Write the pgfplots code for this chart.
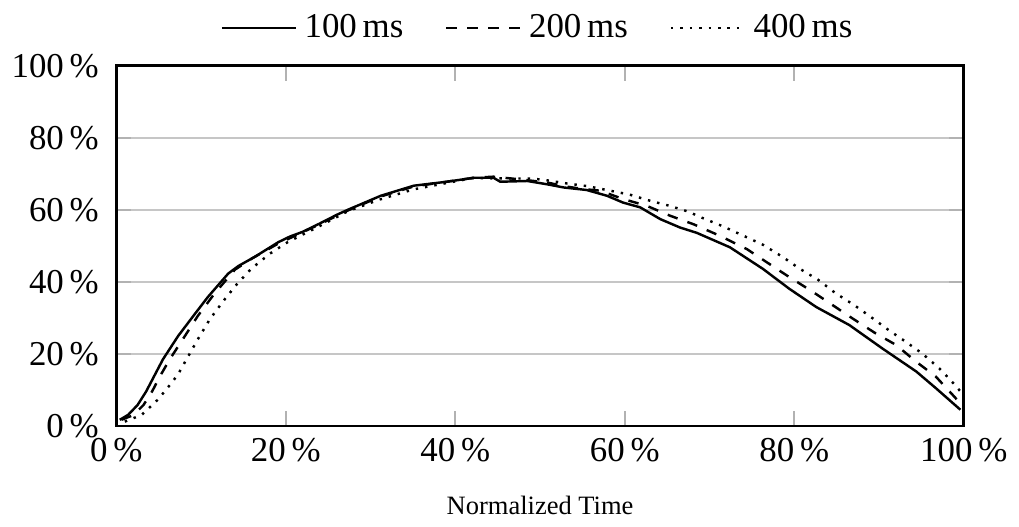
\documentclass[border=0pt]{standalone}
\usepackage{fontspec}
\setmainfont{Liberation Serif}
\usepackage{pgfplots}
\pgfplotsset{compat=1.18}

\begin{document}
\begin{tikzpicture}
\begin{axis}[
    scale only axis,
    width=8.54cm,
    height=3.63cm,
    xmin=0, xmax=100,
    ymin=0, ymax=100,
    xtick={0,20,40,60,80,100},
    ytick={0,20,40,60,80,100},
    /pgf/number format/assume math mode=true,
    xticklabel={\pgfmathprintnumber{\tick}\,\%},
    yticklabel={\pgfmathprintnumber{\tick}\,\%},
    yticklabel style={xshift=-1.5pt},
    xlabel={Normalized Time},
    xlabel style={font=\fontsize{7.6}{9}\selectfont, yshift=-3pt},
    ymajorgrids,
    grid style={gray!45, line width=0.5pt},
    major tick style={gray!60, line width=0.5pt},
    axis line style={line width=0.8pt},
    legend columns=-1,
    legend style={draw=none, at={(0.5,1.0)}, anchor=south, yshift=2.5pt,
        /tikz/every even column/.append style={column sep=10pt}},
    legend image code/.code={\draw[#1] (0cm,0cm) -- (0.75cm,0cm);},
]

% 100 ms
\addplot[black, line width=0.7pt] coordinates {
    (0.4,1.7) (1.4,3.1) (2.5,5.8) (3.5,9.5) (4.5,14.0) (5.5,18.5) (7.3,25.0) (9.3,31.2)
    (10.8,35.8) (13.2,42.3) (14.4,44.4) (16.3,46.9) (19.1,51.0) (20.5,52.6)
    (22,53.9) (24,56.2) (26,58.6) (27.3,60.0) (31.2,63.9) (35.1,66.7)
    (39,67.8) (42.2,68.9) (44.5,68.9) (45.3,67.8) (48.5,68.0) (50.8,67.1)
    (52.8,66.2) (55.5,65.5) (57.9,63.9) (59.8,62.0) (61.8,60.7) (64.2,57.4)
    (66.5,55.1) (68.5,53.6) (72.4,49.6) (76.3,43.6) (79.4,38.1) (82.6,33.0)
    (86.5,28.0) (90.4,21.5) (94.4,15.1) (96.7,10.5) (99.6,4.5)
};
\addlegendentry{100\,ms}

% 200 ms
\addplot[black, line width=0.7pt, dashed] coordinates {
    (0.6,1.7) (2.0,3.0) (3.2,5.8) (4.2,9.5) (5.2,14.0) (6.3,18.5) (8.1,25.0) (9.6,30.5)
    (11.6,36.8) (14.0,43.4) (16.0,46.5) (19.0,50.5) (22,53.8) (24,56.0)
    (27.3,59.8) (31.2,63.7) (35.1,66.5) (39,67.8) (42.2,68.9) (44.5,69.2)
    (47,68.6) (50.8,67.6) (53,66.5) (55,65.8) (57.1,65.3) (59.8,63.0)
    (62.6,61.1) (65.3,58.4) (68.1,56.0) (71.2,52.8) (74.4,49.1) (79.1,41.8)
    (82.2,37.2) (86.9,29.8) (89.6,25.7) (92,22.5) (94.4,17.8) (96.7,13.7)
    (99.4,6.8)
};
\addlegendentry{200\,ms}

% 400 ms
\addplot[black, line width=0.7pt, dotted] coordinates {
    (1.0,1.2) (3.0,3.1) (4.9,7.3) (6.5,11.9) (7.3,14.4) (8.4,19.0) (9.6,24.0)
    (11.0,29.5) (12.6,34.6) (14.2,39.3) (15.9,43.6) (18.1,47.8) (20.2,51.0)
    (24,55.5) (27.3,59.6) (31,62.8) (35.1,65.7) (38,67.0) (42,68.8)
    (46.9,68.7) (49,68.7) (50.8,68.2) (53.2,67.3) (55.5,66.6) (58.3,65.3)
    (60.6,64.2) (63,62.5) (65.3,61.1) (67.5,59.5) (69.1,57.8) (71.6,55.4)
    (74,52.8) (76.3,50.3) (78.7,46.8) (80.6,43.7) (82.8,40.6) (84.9,36.8)
    (87.1,33.5) (89.3,29.8) (91.2,26.5) (93.2,23.3) (95.1,20.1) (97.1,16.0)
    (98.6,12.3) (99.6,9.6)
};
\addlegendentry{400\,ms}

\end{axis}
\end{tikzpicture}
\end{document}
